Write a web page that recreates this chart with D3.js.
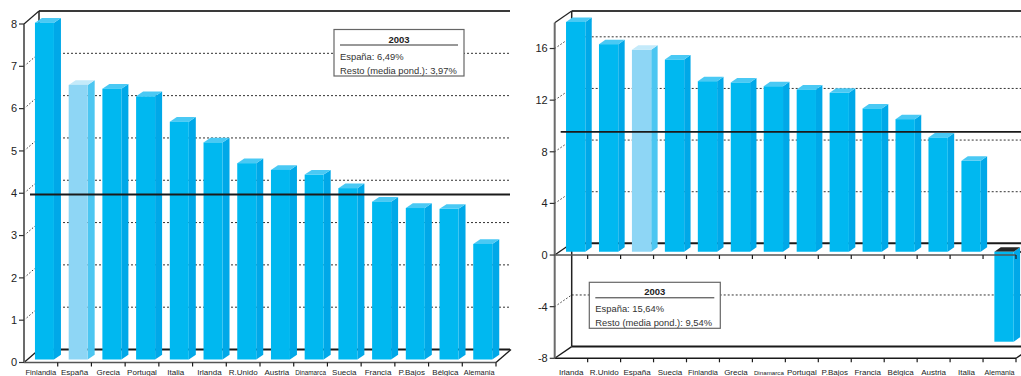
<!DOCTYPE html>
<html>
<head>
<meta charset="utf-8">
<script src="https://cdn.jsdelivr.net/npm/d3@7"></script>
<style>
  html, body { margin: 0; padding: 0; background: #fff; }
  svg { display: block; font-family: "Liberation Sans", Arial, sans-serif; }
</style>
</head>
<body>
<svg id="chart" width="1021" height="376"></svg>
<script>
// Left panel: 2003 values by country
const countriesA = ["Finlandia", "España", "Grecia", "Portugal", "Italia", "Irlanda", "R.Unido",
  "Austria", "Dinamarca", "Suecia", "Francia", "P.Bajos", "Bélgica", "Alemania"];
const valuesA = [7.96, 6.49, 6.40, 6.22, 5.62, 5.13, 4.64, 4.48, 4.37, 4.05, 3.73, 3.58, 3.56, 2.73];
const ticksA = [0, 1, 2, 3, 4, 5, 6, 7, 8];
const meanA = 3.97;
const legendA = ["2003", "España: 6,49%", "Resto (media pond.): 3,97%"];

// Right panel: 2003 values by country
const countriesB = ["Irlanda", "R.Unido", "España", "Suecia", "Finlandia", "Grecia", "Dinamarca",
  "Portugal", "P.Bajos", "Francia", "Bélgica", "Austria", "Italia", "Alemania"];
const valuesB = [17.8, 16.08, 15.64, 14.89, 13.21, 13.11, 12.82, 12.57, 12.31, 11.10, 10.27, 8.85, 7.04, -6.97];
const ticksB = [-8, -4, 0, 4, 8, 12, 16];
const meanB = 9.54;
const legendB = ["2003", "España: 15,64%", "Resto (media pond.): 9,54%"];

const highlight = "España";

const svg = d3.select("#chart");

function drawPanel(cfg, cats, vals, ticks, mean, legend) {
  const g = svg.append("g");
  const y = d3.scaleLinear().domain(cfg.domain).range([cfg.yBottom, cfg.yTop]);
  const x = d3.scaleBand().domain(cats).range([cfg.x0, cfg.x1]);
  const bw = x.bandwidth();
  const D = cfg.depth;
  const [dMin, dMax] = cfg.domain;
  const bx = cfg.x0 + D.dx;
  const line = d3.line();

  // back wall gridlines and the dotted connectors to the front axis
  ticks.forEach(t => {
    if (t === 0 || t === dMin || t === dMax) return;
    g.append("line")
      .attr("x1", bx).attr("x2", cfg.backRight)
      .attr("y1", y(t) + D.dy).attr("y2", y(t) + D.dy)
      .attr("stroke", "#333").attr("stroke-width", 1).attr("stroke-dasharray", "2,2");
    g.append("line")
      .attr("x1", cfg.x0).attr("x2", bx)
      .attr("y1", y(t)).attr("y2", y(t) + D.dy)
      .attr("stroke", "#333").attr("stroke-width", 1).attr("stroke-dasharray", "1.5,2");
  });

  // top edge of the back wall
  g.append("line").attr("x1", bx).attr("x2", cfg.backRight)
    .attr("y1", y(dMax) + D.dy).attr("y2", y(dMax) + D.dy)
    .attr("stroke", "#3a3a3a").attr("stroke-width", 2);
  g.append("path").attr("d", line([[cfg.x0, y(dMax)], [bx, y(dMax) + D.dy]]))
    .attr("stroke", "#222").attr("stroke-width", 1.2).attr("fill", "none");
  // left edge of the back wall
  g.append("line").attr("x1", bx).attr("x2", bx)
    .attr("y1", y(dMax) + D.dy).attr("y2", y(dMin) + D.dy)
    .attr("stroke", "#222").attr("stroke-width", 1.5);

  // zero plane and bottom plane back edges with their side diagonals
  const planes = dMin === 0 ? [0] : [0, dMin];
  planes.forEach(p => {
    g.append("line").attr("x1", bx).attr("x2", cfg.backRight)
      .attr("y1", y(p) + D.dy).attr("y2", y(p) + D.dy)
      .attr("stroke", "#1a1a1a").attr("stroke-width", 2);
    g.append("path").attr("d", line([[cfg.x0, y(p)], [bx, y(p) + D.dy]]))
      .attr("stroke", "#1a1a1a").attr("stroke-width", 1.3).attr("fill", "none");
    g.append("path").attr("d", line([[cfg.x1, y(p)], [cfg.x1 + D.dx, y(p) + D.dy]]))
      .attr("stroke", "#1a1a1a").attr("stroke-width", 1.3).attr("fill", "none");
  });

  // 3D bars
  const B = cfg.bar;
  cats.forEach((c, i) => {
    const v = vals[i];
    const hi = c === highlight;
    const col = hi ? { front: "#8ed6f5", side: "#4cc6f1", top: "#c4eafa" }
                   : { front: "#00b8f0", side: "#00a8e8", top: "#4ac9f4" };
    const fx = x(c) + (bw - B.w) / 2 + B.dx;
    const yv = y(v) + B.dy, y0 = y(0) + B.dy;
    const top = Math.min(yv, y0), bot = Math.max(yv, y0);
    g.append("path")
      .attr("d", line([[fx + B.w, top], [fx + B.w + B.sx, top + B.sy],
                       [fx + B.w + B.sx, bot + B.sy], [fx + B.w, bot]]) + "Z")
      .attr("fill", col.side);
    g.append("path")
      .attr("d", line([[fx, top], [fx + B.sx, top + B.sy],
                       [fx + B.w + B.sx, top + B.sy], [fx + B.w, top]]) + "Z")
      .attr("fill", v < 0 ? "#262626" : col.top);
    g.append("rect").attr("x", fx).attr("y", top)
      .attr("width", B.w).attr("height", bot - top)
      .attr("fill", col.front);
  });

  // weighted mean of the rest
  g.append("line").attr("x1", cfg.x0 + cfg.meanDx).attr("x2", cfg.backRight)
    .attr("y1", y(mean)).attr("y2", y(mean))
    .attr("stroke", "#1a1a1a").attr("stroke-width", 1.8);

  // front category axes (zero line and, if present, bottom line)
  const fronts = dMin === 0 ? [{ v: 0, c: "#555" }] : [{ v: 0, c: "#555" }, { v: dMin, c: "#1a1a1a" }];
  fronts.forEach(f => {
    g.append("line").attr("x1", cfg.x0).attr("x2", cfg.x1)
      .attr("y1", y(f.v)).attr("y2", y(f.v))
      .attr("stroke", f.c).attr("stroke-width", 1.6);
    cats.forEach(c => {
      const tx = x(c) + bw;
      g.append("line").attr("x1", tx).attr("x2", tx)
        .attr("y1", y(f.v)).attr("y2", y(f.v) + 4)
        .attr("stroke", "#1a1a1a").attr("stroke-width", 1.2);
    });
  });

  // front value axis
  g.append("line").attr("x1", cfg.x0).attr("x2", cfg.x0)
    .attr("y1", y(dMax)).attr("y2", y(dMin))
    .attr("stroke", "#6b6b6b").attr("stroke-width", 2);
  ticks.forEach(t => {
    g.append("line").attr("x1", cfg.x0 - 5).attr("x2", cfg.x0)
      .attr("y1", y(t)).attr("y2", y(t))
      .attr("stroke", "#333").attr("stroke-width", 1.2);
    g.append("text").attr("x", cfg.x0 - 7).attr("y", y(t))
      .attr("dy", "0.35em").attr("text-anchor", "end")
      .attr("font-size", 11).attr("fill", "#222").text(t);
  });

  // category labels; long names get a smaller font so they stay inside their band
  const maxW = bw - 3;
  cats.forEach(c => {
    const t = g.append("text").attr("x", x(c) + bw / 2).attr("y", cfg.labelY)
      .attr("text-anchor", "middle").attr("font-size", 8).attr("fill", "#222")
      .text(c);
    const w = t.node().getComputedTextLength();
    if (w > maxW) t.attr("font-size", (8 * maxW / w).toFixed(2));
  });

  // legend box
  const L = cfg.legend;
  g.append("rect").attr("x", L.x).attr("y", L.y).attr("width", L.w).attr("height", L.h)
    .attr("fill", "#fff").attr("stroke", "#666").attr("stroke-width", 1.2);
  g.append("text").attr("x", L.x + L.w / 2).attr("y", L.y + 13)
    .attr("text-anchor", "middle").attr("font-size", 9.5).attr("font-weight", "bold")
    .attr("fill", "#222").text(legend[0]);
  g.append("line").attr("x1", L.x + 6).attr("x2", L.x + L.w - 6)
    .attr("y1", L.y + 15.5).attr("y2", L.y + 15.5)
    .attr("stroke", "#333").attr("stroke-width", 1);
  legend.slice(1).forEach((s, i) => {
    g.append("text").attr("x", L.x + 6).attr("y", L.y + 30 + i * 14)
      .attr("font-size", 9.4).attr("fill", "#333").text(s);
  });
}

drawPanel({
  domain: [0, 8], x0: 24, x1: 496, yTop: 24, yBottom: 362.5, backRight: 510,
  depth: { dx: 15, dy: -13 },
  bar: { w: 19, dx: 3.6, dy: -3, sx: 7, sy: -4.7 },
  meanDx: 6, labelY: 374.5,
  legend: { x: 334, y: 29.5, w: 130, h: 46.5 }
}, countriesA, valuesA, ticksA, meanA, legendA);

drawPanel({
  domain: [-8, 18], x0: 554.7, x1: 1016, yTop: 22.7, yBottom: 358.3, backRight: 1021,
  depth: { dx: 17, dy: -11.7 },
  bar: { w: 19.3, dx: 4.5, dy: -3.3, sx: 6.4, sy: -4.5 },
  meanDx: 6, labelY: 375,
  legend: { x: 589.3, y: 282.3, w: 131, h: 46 }
}, countriesB, valuesB, ticksB, meanB, legendB);
</script>
</body>
</html>
